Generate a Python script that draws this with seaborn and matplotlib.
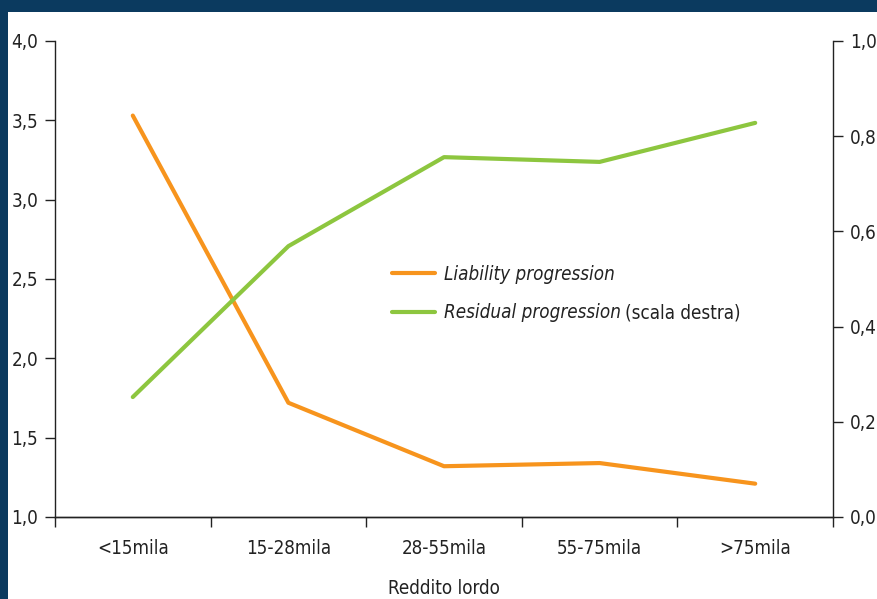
import matplotlib
matplotlib.use("Agg")
import matplotlib.pyplot as plt
from matplotlib.patches import Rectangle
from matplotlib.ticker import FuncFormatter, FixedLocator
import pandas as pd
import seaborn as sns

# data
fasce = ["<15mila", "15-28mila", "28-55mila", "55-75mila", ">75mila"]
liability = [3.53, 1.72, 1.32, 1.34, 1.21]
residual = [0.252, 0.569, 0.756, 0.746, 0.828]

sns.set_style("ticks")
plt.rcParams["font.family"] = ["DejaVu Sans"]
plt.rcParams["font.stretch"] = "condensed"

orange = "#F7941D"
green = "#8DC63F"
navy = "#0B3A5F"
ink = "#222222"
fs = 13.5

df = pd.DataFrame({"fascia": fasce, "liab": liability, "res": residual})
df["pos"] = range(len(fasce))

fig = plt.figure(figsize=(8.77, 5.99), dpi=100, facecolor=navy)
fig.patches.append(Rectangle((8 / 877, 0), 1, 1 - 12 / 599, transform=fig.transFigure,
                             facecolor="white", edgecolor="none", zorder=-10))

ax = fig.add_axes([55 / 877, 1 - 517 / 599, (833 - 55) / 877, (517 - 41) / 599])
ax.set_facecolor("none")
ax2 = ax.twinx()
ax2.set_facecolor("none")

sns.lineplot(data=df, x="pos", y="liab", ax=ax, color=orange, linewidth=3,
             legend=False)
sns.lineplot(data=df, x="pos", y="res", ax=ax2, color=green, linewidth=3,
             legend=False)

comma = FuncFormatter(lambda v, p: f"{v:.1f}".replace(".", ","))

ax.set_xlim(-0.5, len(fasce) - 0.5)
ax.set_ylim(1.0, 4.0)
ax.set_yticks([1.0, 1.5, 2.0, 2.5, 3.0, 3.5, 4.0])
ax.yaxis.set_major_formatter(comma)
ax2.set_ylim(0.0, 1.0)
ax2.set_yticks([0.0, 0.2, 0.4, 0.6, 0.8, 1.0])
ax2.yaxis.set_major_formatter(comma)

ax.set_xticks(df["pos"])
ax.set_xticklabels(fasce)
ax.xaxis.set_minor_locator(FixedLocator([i - 0.5 for i in range(len(fasce) + 1)]))
ax.tick_params(axis="x", which="major", length=0, pad=16, labelsize=fs, colors=ink)
ax.tick_params(axis="x", which="minor", length=7, width=1, direction="out", color=ink)
ax.tick_params(axis="y", length=7, width=1, labelsize=fs, colors=ink, pad=5)
ax2.tick_params(axis="y", length=7, width=1, labelsize=fs, colors=ink, pad=5)

ax.set_xlabel("Reddito lordo", fontsize=fs, color=ink, labelpad=15)
ax.set_ylabel("")
ax2.set_ylabel("")

for a in (ax, ax2):
    a.spines["top"].set_visible(False)
    for s in ("left", "right", "bottom"):
        a.spines[s].set_color(ink)
        a.spines[s].set_linewidth(1)

ax2.spines["left"].set_visible(False)
ax.spines["right"].set_visible(False)

# legend, with the italic series names
h1 = ax.get_lines()[0]
h2 = ax2.get_lines()[0]
leg = ax.legend([h1, h2], ["Liability progression", "Residual progression"],
                loc="upper left", bbox_to_anchor=((384 - 55) / 778, (517 - 257) / 476),
                frameon=False, fontsize=fs, handlelength=2.3, handletextpad=0.5,
                labelspacing=1.05, borderaxespad=0)
for t in leg.get_texts():
    t.set_fontstyle("italic")
    t.set_color(ink)
fig.canvas.draw()
bb = leg.get_texts()[1].get_window_extent()
fig.text((bb.x1 + 4) / 877, (bb.y0 + bb.y1) / 2 / 599, "(scala destra)", fontsize=fs,
         color=ink, va="center", ha="left")

fig.savefig("out.png", dpi=100, facecolor=navy)
